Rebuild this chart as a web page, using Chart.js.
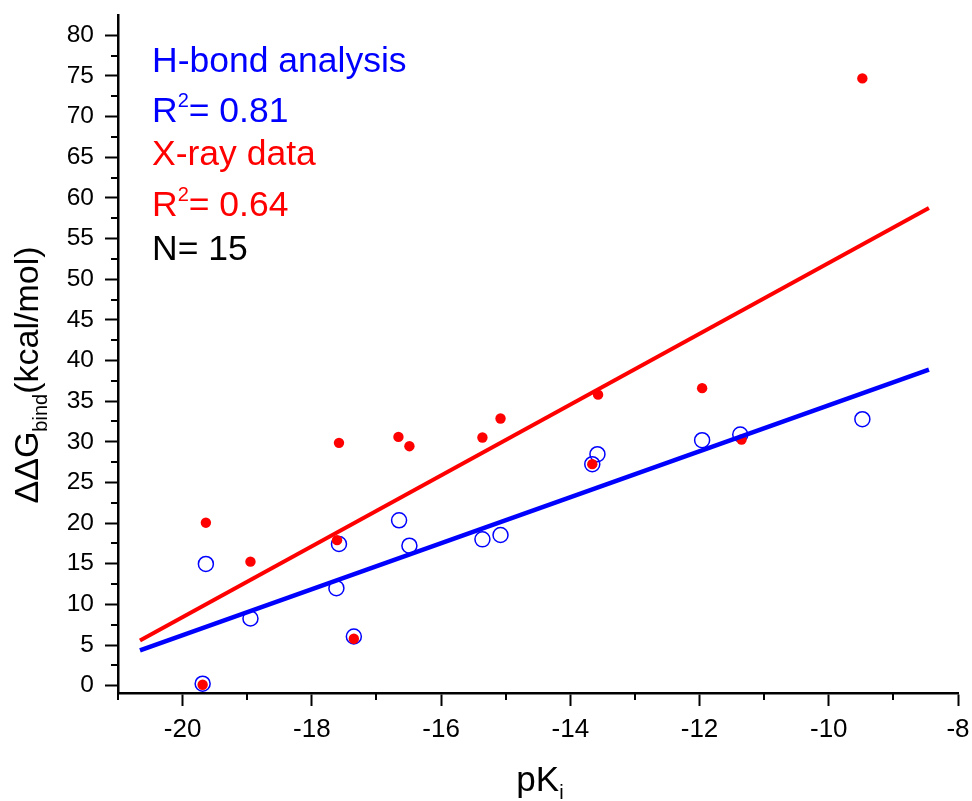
<!DOCTYPE html>
<html>
<head>
<meta charset="utf-8">
<script src="https://cdn.jsdelivr.net/npm/chart.js@4.4.1/dist/chart.umd.min.js"></script>
<style>
  html, body { margin: 0; padding: 0; background: #fff; }
  #wrap { width: 972px; height: 801px; position: relative; }
</style>
</head>
<body>
<div id="wrap"><canvas id="chart"></canvas></div>
<script>
// --- data ---
const hbondX = [-19.69, -19.64, -18.95, -17.62, -17.58, -17.35, -16.65, -16.49, -15.36, -15.08, -13.66, -13.58, -11.96, -11.37, -9.48];
const hbondY = [0.25, 14.98, 8.26, 12.0, 17.43, 6.05, 20.34, 17.22, 18.0, 18.54, 27.25, 28.48, 30.2, 30.9, 32.78];
const xrayX = [-19.69, -19.64, -18.95, -17.61, -17.58, -17.35, -16.66, -16.49, -15.36, -15.08, -13.66, -13.57, -11.96, -11.35, -9.48];
const xrayY = [0.12, 20.05, 15.26, 17.9, 29.87, 5.77, 30.6, 29.46, 30.53, 32.86, 27.25, 35.8, 36.6, 30.28, 74.7];

// fitted lines (end points)
const fitX = [-20.66, -8.45];
const hbondFitY = [4.33, 38.88];
const xrayFitY = [5.56, 58.77];

// tick values
const xTickValues = [-21, -20, -19, -18, -17, -16, -15, -14, -13, -12, -11, -10, -9, -8];
const yTickValues = [];
for (let v = 0; v <= 80; v += 2.5) yTickValues.push(v);

const FONT = "'Liberation Sans', Arial, sans-serif";

const pts = (xs, ys) => xs.map((x, i) => ({ x: x, y: ys[i] }));

const isMajorX = v => v % 2 === 0;
const isMajorY = v => v % 5 === 0;

// draws a line of text made of runs (normal / sub / superscript)
function drawRuns(ctx, x, y, runs, color, align) {
    ctx.fillStyle = color;
    ctx.textBaseline = 'alphabetic';
    ctx.textAlign = 'left';
    let total = 0;
    runs.forEach(r => {
        ctx.font = r.size + 'px ' + FONT;
        r.w = ctx.measureText(r.text).width;
        total += r.w;
    });
    let cx = align === 'center' ? x - total / 2 : x;
    runs.forEach(r => {
        ctx.font = r.size + 'px ' + FONT;
        ctx.fillText(r.text, cx, y + (r.dy || 0));
        cx += r.w;
    });
}

const decorPlugin = {
    id: 'decor',
    afterDraw(chart) {
        const ctx = chart.ctx;
        const xs = chart.scales.x;
        const ys = chart.scales.y;
        const area = chart.chartArea;
        ctx.save();

        // minor ticks
        ctx.strokeStyle = '#000';
        ctx.lineWidth = 2;
        ctx.beginPath();
        xTickValues.filter(v => !isMajorX(v)).forEach(v => {
            const px = Math.round(xs.getPixelForValue(v));
            ctx.moveTo(px, area.bottom);
            ctx.lineTo(px, area.bottom + 7);
        });
        yTickValues.filter(v => !isMajorY(v)).forEach(v => {
            const py = Math.round(ys.getPixelForValue(v));
            ctx.moveTo(area.left, py);
            ctx.lineTo(area.left - 7, py);
        });
        ctx.stroke();

        // annotation text
        drawRuns(ctx, 152, 72, [{ text: 'H-bond analysis', size: 35.5 }], '#0000ff');
        drawRuns(ctx, 152, 122, [
            { text: 'R', size: 35.5 }, { text: '2', size: 20, dy: -15 }, { text: '= 0.81', size: 35.5 }
        ], '#0000ff');
        drawRuns(ctx, 152, 165, [{ text: 'X-ray data', size: 35.5 }], '#ff0000');
        drawRuns(ctx, 152, 216, [
            { text: 'R', size: 35.5 }, { text: '2', size: 20, dy: -15 }, { text: '= 0.64', size: 35.5 }
        ], '#ff0000');
        drawRuns(ctx, 152, 260, [{ text: 'N= 15', size: 35.5 }], '#000000');

        // x axis title
        drawRuns(ctx, (area.left + area.right) / 2 + 2, 791, [
            { text: 'pK', size: 35 }, { text: 'i', size: 20, dy: 8 }
        ], '#000', 'center');

        // y axis title
        ctx.translate(38, 375);
        ctx.rotate(-Math.PI / 2);
        drawRuns(ctx, 0, 0, [
            { text: '\u0394\u0394G', size: 34 }, { text: 'bind', size: 20, dy: 9 }, { text: '(kcal/mol)', size: 34 }
        ], '#000', 'center');

        ctx.restore();
    }
};

new Chart(document.getElementById('chart'), {
    type: 'scatter',
    data: {
        datasets: [
            {
                label: 'H-bond fit',
                type: 'line',
                data: pts(fitX, hbondFitY),
                borderColor: '#0000ff',
                borderWidth: 4.5,
                pointRadius: 0,
                fill: false
            },
            {
                label: 'X-ray fit',
                type: 'line',
                data: pts(fitX, xrayFitY),
                borderColor: '#ff0000',
                borderWidth: 4,
                pointRadius: 0,
                fill: false
            },
            {
                label: 'X-ray data',
                data: pts(xrayX, xrayY),
                pointStyle: 'circle',
                pointRadius: 5.2,
                backgroundColor: '#ff0000',
                borderColor: '#ff0000',
                borderWidth: 0
            },
            {
                label: 'H-bond analysis',
                data: pts(hbondX, hbondY),
                pointStyle: 'circle',
                pointRadius: 7.5,
                backgroundColor: 'rgba(0,0,0,0)',
                borderColor: '#0000ff',
                borderWidth: 1.5
            }
        ]
    },
    options: {
        responsive: true,
        maintainAspectRatio: false,
        animation: false,
        layout: { padding: { left: 0, right: 14, top: 15, bottom: 0 } },
        plugins: {
            legend: { display: false },
            tooltip: { enabled: false }
        },
        scales: {
            x: {
                type: 'linear',
                min: -21,
                max: -8,
                afterBuildTicks: s => { s.ticks = xTickValues.map(v => ({ value: v })); },
                afterFit: s => { s.height = 108; s.paddingLeft = 0; s.paddingRight = 0; },
                border: { color: '#000', width: 2.5 },
                grid: {
                    drawOnChartArea: false,
                    drawTicks: true,
                    tickLength: 13,
                    tickWidth: 2,
                    tickColor: c => isMajorX(c.tick.value) ? '#000' : 'rgba(0,0,0,0)'
                },
                ticks: {
                    autoSkip: false,
                    maxRotation: 0,
                    padding: 8,
                    color: '#000',
                    font: { family: FONT, size: 26 },
                    callback: v => isMajorX(v) ? String(v) : ''
                }
            },
            y: {
                type: 'linear',
                min: -0.9,
                max: 82.5,
                afterBuildTicks: s => { s.ticks = yTickValues.map(v => ({ value: v })); },
                afterFit: s => { s.width = 118; s.paddingTop = 0; s.paddingBottom = 0; },
                border: { color: '#000', width: 2.5 },
                grid: {
                    drawOnChartArea: false,
                    drawTicks: true,
                    tickLength: 13,
                    tickWidth: 2,
                    tickColor: c => isMajorY(c.tick.value) ? '#000' : 'rgba(0,0,0,0)'
                },
                ticks: {
                    autoSkip: false,
                    padding: 11,
                    color: '#000',
                    font: { family: FONT, size: 24.5 },
                    callback: v => isMajorY(v) ? String(v) : ''
                }
            }
        }
    },
    plugins: [decorPlugin]
});
</script>
</body>
</html>
